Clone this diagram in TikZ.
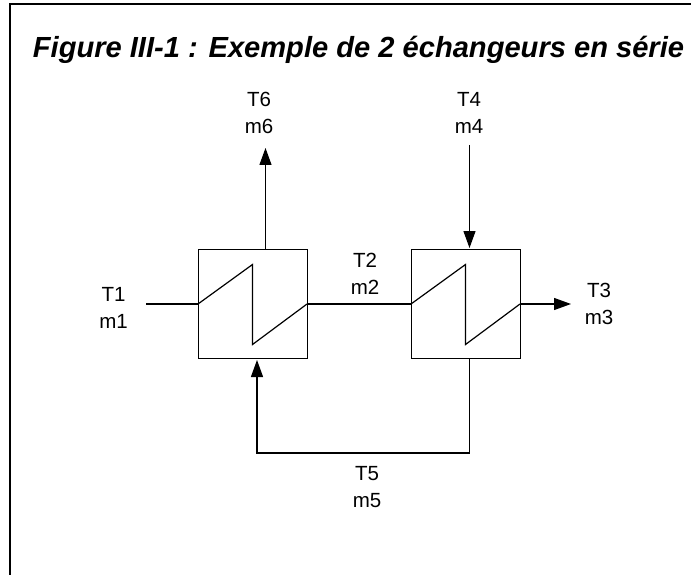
\documentclass[tikz,border=0pt]{standalone}
\usepackage{fontspec}
\setmainfont{Liberation Sans}
\usetikzlibrary{arrows.meta,calc}

\tikzset{
  hxbox/.style={draw, line width=0.9pt, minimum size=109pt, inner sep=0pt, outer sep=0pt},
  flowlabel/.style={font=\fontsize{20.5}{27.5}\selectfont, align=center, inner sep=0pt},
  flow/.style={line width=1.2pt},
  floweq/.style={flow, -{Triangle[length=17pt,width=12pt]}},
}

\begin{document}
\begin{tikzpicture}[x=1pt,y=1pt]
    \useasboundingbox (0,0) rectangle (691,-575);
    \fill[white] (0,0) rectangle (691,-575);
    \draw[line width=2pt] (10,-575) -- (10,-4) -- (691,-4);

    \node (title) at (358.5,-58) [anchor=base, font=\bfseries\itshape\fontsize{29.1}{34}\selectfont, inner sep=0pt] {Figure III-1 : Exemple de 2 échangeurs en série};

    % echangeurs
    \node[hxbox] (hxa) at (252.5,-304) {};
    \node[hxbox] (hxb) at (465.5,-304) {};

    \node[flowlabel] (la) at (113.5,-308) {T1\\m1};
    \node[flowlabel] (lb) at (365,-274) {T2\\m2};
    \node[flowlabel] (lc) at (599,-304) {T3\\m3};
    \node[flowlabel] (ld) at (469,-113) {T4\\m4};
    \node[flowlabel] (le) at (367,-487) {T5\\m5};
    \node[flowlabel] (lf) at (259,-113) {T6\\m6};

    \coordinate (ina) at (146,-304);
    \coordinate (outc) at (571,-304);
    \coordinate (outf) at (265.5,-148);
    \coordinate (ind) at (469.5,-145);
    \coordinate (bota) at (257,-360);
    \coordinate (botb) at (469.5,-359);
    \coordinate (topa) at (265.5,-249);
    \coordinate (topb) at (469.5,-248);
    \coordinate (cornera) at (257,-453);
    \coordinate (cornerb) at (469.5,-453);

    \foreach \hx in {hxa,hxb} {
      \draw[flow] (\hx.west) -- ($(\hx.center)+(0,39.5)$) -- ($(\hx.center)+(0,-40.5)$) -- (\hx.east);
    }

    \draw[flow] (ina) -- (hxa.west);
    \draw[flow] (hxa.east) -- (hxb.west);
    \draw[floweq] (hxb.east) -- (outc);
    \draw[floweq] (topa) -- (outf);
    \draw[floweq] (ind) -- (topb);
    \draw[floweq] (botb) -- (cornerb) -- (cornera) -- (bota);
  \end{tikzpicture}
\end{document}
